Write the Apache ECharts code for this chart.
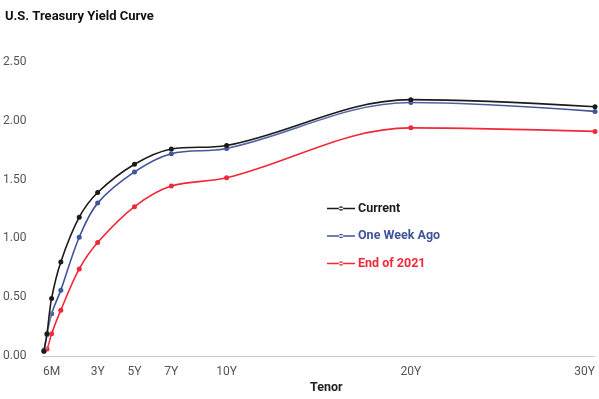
<!DOCTYPE html>
<html>
<head>
<meta charset="utf-8">
<script src="https://cdn.jsdelivr.net/npm/echarts@6/dist/echarts.min.js"></script>
<style>
html,body{margin:0;padding:0;background:#fff;}
#c{width:599px;height:399px;}
</style>
</head>
<body>
<div id="c"></div>
<script>
var tenorYears = [0.0833, 0.25, 0.5, 1, 2, 3, 5, 7, 10, 20, 30];
var current    = [0.04, 0.19, 0.49, 0.80, 1.18, 1.39, 1.63, 1.76, 1.79, 2.18, 2.12];
var oneWeekAgo = [0.05, 0.18, 0.36, 0.56, 1.01, 1.30, 1.565, 1.72, 1.765, 2.155, 2.08];
var endOf2021  = [0.04, 0.06, 0.19, 0.39, 0.74, 0.965, 1.27, 1.445, 1.515, 1.94, 1.91];
var tickValues = [0.5, 3, 5, 7, 10, 20, 30];
var tickLabels = ['6M', '3Y', '5Y', '7Y', '10Y', '20Y', '30Y'];

var FONT = "'Roboto', sans-serif";
function pairs(v){ return tenorYears.map(function(x,i){ return [x, v[i]]; }); }

var colors = {cur:'#1b1b1b', wk:'#40549a', eoy:'#f0283a'};
var legendIcon = 'path://M0,4.3h28v1.4h-28z M11.8,5a2.2,2.2 0 1,0 4.4,0a2.2,2.2 0 1,0 -4.4,0z';

function mk(name, vals, color, z){
  return {
    name: name, type: 'line', data: pairs(vals), smooth: 0.35, z: z,
    symbol: 'circle', symbolSize: 5,
    itemStyle: {color: color},
    lineStyle: {color: color, width: 1.6, shadowColor: 'rgba(255,255,255,1)', shadowBlur: 3},
    emphasis: {disabled: true}
  };
}

var chart = echarts.init(document.getElementById('c'));
chart.setOption({
  animation: false,
  textStyle: {fontFamily: FONT},
  title: {
    text: 'U.S. Treasury Yield Curve', left: 0, top: 5,
    textStyle: {fontFamily: FONT, fontWeight: 'bold', fontSize: 13, color: '#111'}
  },
  grid: {left: 40, right: 4, top: 62, bottom: 43, containLabel: false},
  legend: {
    orient: 'vertical', left: 322, top: 197, itemGap: 14.5,
    itemWidth: 28, itemHeight: 10, icon: legendIcon,
    data: [
      {name: 'Current', textStyle: {color: colors.cur}},
      {name: 'One Week Ago', textStyle: {color: colors.wk}},
      {name: 'End of 2021', textStyle: {color: colors.eoy}}
    ],
    textStyle: {fontFamily: FONT, fontWeight: 'bold', fontSize: 12.5, padding: [0,0,0,-2]}
  },
  xAxis: {
    type: 'value', min: 0, max: 30,
    splitLine: {show: false},
    axisLine: {show: true, lineStyle: {color: '#c8c8c8', width: 1}},
    axisTick: {show: false},
    axisLabel: {
      customValues: tickValues, margin: 10, fontSize: 12, color: '#555',
      fontFamily: FONT, alignMaxLabel: 'right',
      formatter: function(v){ var i = tickValues.indexOf(v); return i >= 0 ? tickLabels[i] : ''; }
    }
  },
  yAxis: {
    type: 'value', min: 0, max: 2.5, interval: 0.5,
    splitLine: {show: false},
    axisLine: {show: false}, axisTick: {show: false},
    axisLabel: {
      margin: 16, fontSize: 12, color: '#555', fontFamily: FONT,
      formatter: function(v){ return v.toFixed(2); }
    }
  },
  graphic: [{
    type: 'text', left: 310, top: 381,
    style: {text: 'Tenor', font: 'bold 12.5px ' + FONT, fill: '#222'}
  }],
  series: [
    mk('End of 2021', endOf2021, colors.eoy, 2),
    mk('One Week Ago', oneWeekAgo, colors.wk, 3),
    mk('Current', current, colors.cur, 4)
  ]
});
</script>
</body>
</html>
